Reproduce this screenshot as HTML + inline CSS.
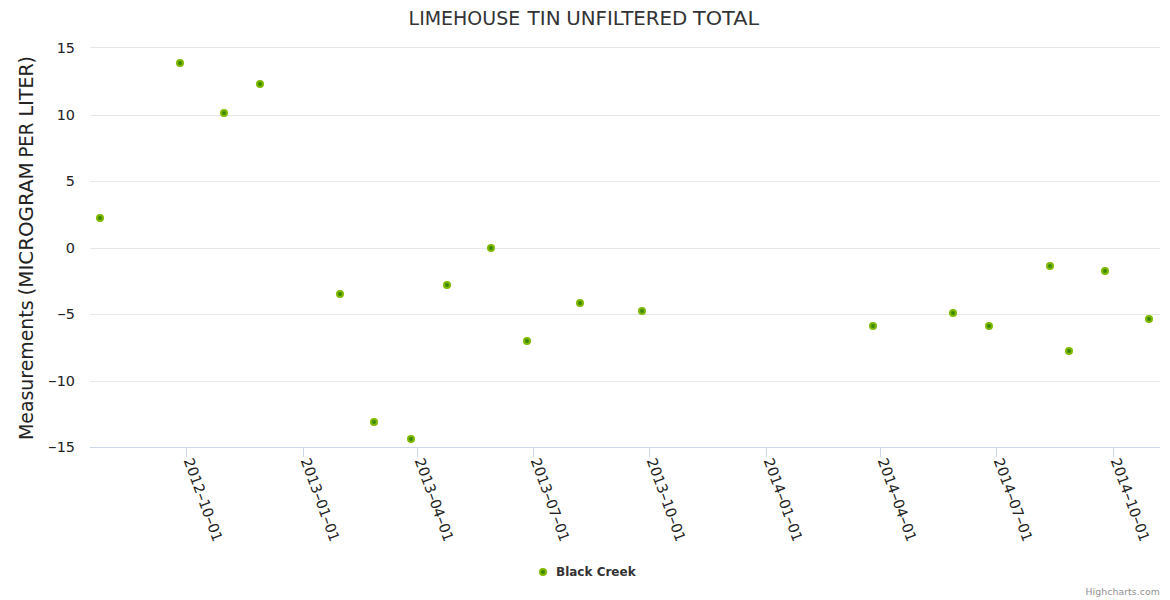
<!DOCTYPE html>
<html><head><meta charset="utf-8"><title>Limehouse Tin Unfiltered Total</title>
<style>
html,body{margin:0;padding:0;background:#fff;}
body{width:1170px;height:600px;overflow:hidden;}
svg{display:block;font-family:'DejaVu Sans', sans-serif;}
</style></head><body>
<svg width="1170" height="600" viewBox="0 0 1170 600">
<rect x="0" y="0" width="1170" height="600" fill="#ffffff"/>

<path d="M 90 47.5 L 1160 47.5" stroke="#E6E6E6" stroke-width="1" fill="none"/>
<path d="M 90 115.5 L 1160 115.5" stroke="#E6E6E6" stroke-width="1" fill="none"/>
<path d="M 90 181.5 L 1160 181.5" stroke="#E6E6E6" stroke-width="1" fill="none"/>
<path d="M 90 248.5 L 1160 248.5" stroke="#E6E6E6" stroke-width="1" fill="none"/>
<path d="M 90 314.5 L 1160 314.5" stroke="#E6E6E6" stroke-width="1" fill="none"/>
<path d="M 90 381.5 L 1160 381.5" stroke="#E6E6E6" stroke-width="1" fill="none"/>
<path d="M 90 447.5 L 1160 447.5" stroke="#CCD6EB" stroke-width="1" fill="none"/>
<path d="M 186.5 447 L 186.5 457" stroke="#CCD6EB" stroke-width="1" fill="none"/>
<text transform="translate(183.5,460.3) rotate(70)" font-size="14.4" fill="#222">2012<tspan dx="-0.6" textLength="8.4" lengthAdjust="spacingAndGlyphs">-</tspan><tspan dx="-0.6">10</tspan><tspan dx="-0.6" textLength="8.4" lengthAdjust="spacingAndGlyphs">-</tspan><tspan dx="-0.6">01</tspan></text>
<path d="M 303.5 447 L 303.5 457" stroke="#CCD6EB" stroke-width="1" fill="none"/>
<text transform="translate(300.5,460.3) rotate(70)" font-size="14.4" fill="#222">2013<tspan dx="-0.6" textLength="8.4" lengthAdjust="spacingAndGlyphs">-</tspan><tspan dx="-0.6">01</tspan><tspan dx="-0.6" textLength="8.4" lengthAdjust="spacingAndGlyphs">-</tspan><tspan dx="-0.6">01</tspan></text>
<path d="M 417.5 447 L 417.5 457" stroke="#CCD6EB" stroke-width="1" fill="none"/>
<text transform="translate(414.5,460.3) rotate(70)" font-size="14.4" fill="#222">2013<tspan dx="-0.6" textLength="8.4" lengthAdjust="spacingAndGlyphs">-</tspan><tspan dx="-0.6">04</tspan><tspan dx="-0.6" textLength="8.4" lengthAdjust="spacingAndGlyphs">-</tspan><tspan dx="-0.6">01</tspan></text>
<path d="M 533.5 447 L 533.5 457" stroke="#CCD6EB" stroke-width="1" fill="none"/>
<text transform="translate(530.5,460.3) rotate(70)" font-size="14.4" fill="#222">2013<tspan dx="-0.6" textLength="8.4" lengthAdjust="spacingAndGlyphs">-</tspan><tspan dx="-0.6">07</tspan><tspan dx="-0.6" textLength="8.4" lengthAdjust="spacingAndGlyphs">-</tspan><tspan dx="-0.6">01</tspan></text>
<path d="M 649.5 447 L 649.5 457" stroke="#CCD6EB" stroke-width="1" fill="none"/>
<text transform="translate(646.5,460.3) rotate(70)" font-size="14.4" fill="#222">2013<tspan dx="-0.6" textLength="8.4" lengthAdjust="spacingAndGlyphs">-</tspan><tspan dx="-0.6">10</tspan><tspan dx="-0.6" textLength="8.4" lengthAdjust="spacingAndGlyphs">-</tspan><tspan dx="-0.6">01</tspan></text>
<path d="M 766.5 447 L 766.5 457" stroke="#CCD6EB" stroke-width="1" fill="none"/>
<text transform="translate(763.5,460.3) rotate(70)" font-size="14.4" fill="#222">2014<tspan dx="-0.6" textLength="8.4" lengthAdjust="spacingAndGlyphs">-</tspan><tspan dx="-0.6">01</tspan><tspan dx="-0.6" textLength="8.4" lengthAdjust="spacingAndGlyphs">-</tspan><tspan dx="-0.6">01</tspan></text>
<path d="M 880.5 447 L 880.5 457" stroke="#CCD6EB" stroke-width="1" fill="none"/>
<text transform="translate(877.5,460.3) rotate(70)" font-size="14.4" fill="#222">2014<tspan dx="-0.6" textLength="8.4" lengthAdjust="spacingAndGlyphs">-</tspan><tspan dx="-0.6">04</tspan><tspan dx="-0.6" textLength="8.4" lengthAdjust="spacingAndGlyphs">-</tspan><tspan dx="-0.6">01</tspan></text>
<path d="M 996.5 447 L 996.5 457" stroke="#CCD6EB" stroke-width="1" fill="none"/>
<text transform="translate(993.5,460.3) rotate(70)" font-size="14.4" fill="#222">2014<tspan dx="-0.6" textLength="8.4" lengthAdjust="spacingAndGlyphs">-</tspan><tspan dx="-0.6">07</tspan><tspan dx="-0.6" textLength="8.4" lengthAdjust="spacingAndGlyphs">-</tspan><tspan dx="-0.6">01</tspan></text>
<path d="M 1113.5 447 L 1113.5 457" stroke="#CCD6EB" stroke-width="1" fill="none"/>
<text transform="translate(1110.5,460.3) rotate(70)" font-size="14.4" fill="#222">2014<tspan dx="-0.6" textLength="8.4" lengthAdjust="spacingAndGlyphs">-</tspan><tspan dx="-0.6">10</tspan><tspan dx="-0.6" textLength="8.4" lengthAdjust="spacingAndGlyphs">-</tspan><tspan dx="-0.6">01</tspan></text>
<text x="75" y="52.9" text-anchor="end" font-size="14.4" fill="#222">15</text>
<text x="75" y="120.0" text-anchor="end" font-size="14.4" fill="#222">10</text>
<text x="75" y="185.7" text-anchor="end" font-size="14.4" fill="#222">5</text>
<text x="75" y="252.7" text-anchor="end" font-size="14.4" fill="#222">0</text>
<text x="75" y="319.0" text-anchor="end" font-size="14.4" fill="#222"><tspan textLength="9.3" lengthAdjust="spacingAndGlyphs">-</tspan><tspan dx="-0.5">5</tspan></text>
<text x="75" y="385.7" text-anchor="end" font-size="14.4" fill="#222"><tspan textLength="9.3" lengthAdjust="spacingAndGlyphs">-</tspan><tspan dx="-0.5">10</tspan></text>
<text x="75" y="451.7" text-anchor="end" font-size="14.4" fill="#222"><tspan textLength="9.3" lengthAdjust="spacingAndGlyphs">-</tspan><tspan dx="-0.5">15</tspan></text>
<text transform="translate(32.7,0) rotate(-90)" font-size="19" fill="#222">
<tspan x="-440.0" textLength="139.6" lengthAdjust="spacingAndGlyphs">Measurements</tspan> 
<tspan x="-295.4" textLength="133.0" lengthAdjust="spacingAndGlyphs">(MICROGRAM</tspan> 
<tspan x="-157.6" textLength="35.0" lengthAdjust="spacingAndGlyphs">PER</tspan> 
<tspan x="-116.4" textLength="60.4" lengthAdjust="spacingAndGlyphs">LITER)</tspan>
</text>
<text y="25" font-size="19.8" fill="#333333" lengthAdjust="spacingAndGlyphs">
<tspan x="408.6" textLength="111.6" lengthAdjust="spacingAndGlyphs">LIMEHOUSE</tspan> 
<tspan x="527.6" textLength="33.0" lengthAdjust="spacingAndGlyphs">TIN</tspan> 
<tspan x="566.2" textLength="121.2" lengthAdjust="spacingAndGlyphs">UNFILTERED</tspan> 
<tspan x="693.0" textLength="66.0" lengthAdjust="spacingAndGlyphs">TOTAL</tspan>
</text>
<circle cx="100.0" cy="218.0" r="3" fill="#3a8a00" stroke="#80b800" stroke-width="2"/>
<circle cx="180.0" cy="63.0" r="3" fill="#3a8a00" stroke="#80b800" stroke-width="2"/>
<circle cx="224.0" cy="113.0" r="3" fill="#3a8a00" stroke="#80b800" stroke-width="2"/>
<circle cx="260.0" cy="84.0" r="3" fill="#3a8a00" stroke="#80b800" stroke-width="2"/>
<circle cx="340.0" cy="294.0" r="3" fill="#3a8a00" stroke="#80b800" stroke-width="2"/>
<circle cx="374.0" cy="422.0" r="3" fill="#3a8a00" stroke="#80b800" stroke-width="2"/>
<circle cx="411.0" cy="439.0" r="3" fill="#3a8a00" stroke="#80b800" stroke-width="2"/>
<circle cx="447.0" cy="285.0" r="3" fill="#3a8a00" stroke="#80b800" stroke-width="2"/>
<circle cx="491.0" cy="248.0" r="3" fill="#3a8a00" stroke="#80b800" stroke-width="2"/>
<circle cx="527.0" cy="341.0" r="3" fill="#3a8a00" stroke="#80b800" stroke-width="2"/>
<circle cx="580.0" cy="303.0" r="3" fill="#3a8a00" stroke="#80b800" stroke-width="2"/>
<circle cx="642.0" cy="311.0" r="3" fill="#3a8a00" stroke="#80b800" stroke-width="2"/>
<circle cx="873.0" cy="326.0" r="3" fill="#3a8a00" stroke="#80b800" stroke-width="2"/>
<circle cx="953.0" cy="313.0" r="3" fill="#3a8a00" stroke="#80b800" stroke-width="2"/>
<circle cx="989.0" cy="326.0" r="3" fill="#3a8a00" stroke="#80b800" stroke-width="2"/>
<circle cx="1050.0" cy="266.0" r="3" fill="#3a8a00" stroke="#80b800" stroke-width="2"/>
<circle cx="1069.0" cy="351.0" r="3" fill="#3a8a00" stroke="#80b800" stroke-width="2"/>
<circle cx="1105.0" cy="271.0" r="3" fill="#3a8a00" stroke="#80b800" stroke-width="2"/>
<circle cx="1149.0" cy="319.0" r="3" fill="#3a8a00" stroke="#80b800" stroke-width="2"/>
<circle cx="543" cy="572" r="3" fill="#3a8a00" stroke="#80b800" stroke-width="2"/>
<text x="556" y="576" font-size="12" font-weight="bold" fill="#333333">Black Creek</text>
<text x="1160" y="595" text-anchor="end" font-size="9.3" letter-spacing="0.1" fill="#909090">Highcharts.com</text>
</svg></body></html>
